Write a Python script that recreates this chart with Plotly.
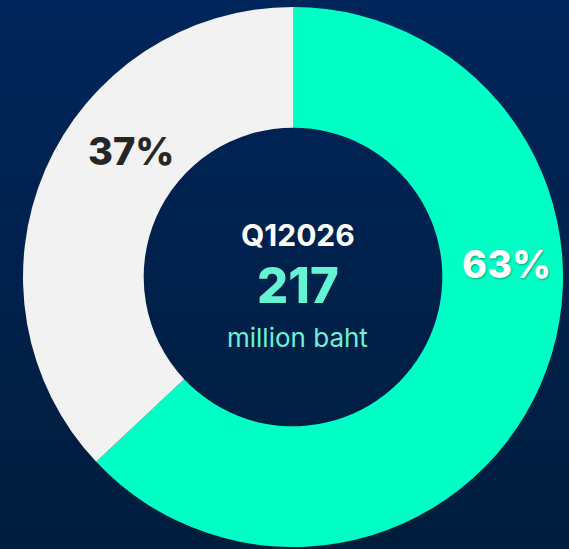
import plotly.graph_objects as go

labels = ["Q1 2026 share A", "Q1 2026 share B"]
values = [63, 37]
slice_colors = ["#00FFC5", "#F2F2F2"]
pct_text = ["63%", "37%"]
period = "Q12026"
total = "217"
unit = "million baht"

W, H = 569, 549
cx, cy, R = 293, 277, 270

fig = go.Figure(go.Pie(
    labels=labels, values=values, sort=False, direction="clockwise", rotation=0,
    hole=0.553, textinfo="none", hoverinfo="label+percent",
    marker=dict(colors=slice_colors, line=dict(width=0)),
    domain=dict(x=[(cx - R) / W, (cx + R) / W], y=[(H - cy - R) / H, (H - cy + R) / H]),
    showlegend=False,
))

# background gradient
shapes = []
n = 60
top = (0, 37, 90)
bot = (0, 29, 61)
for i in range(n):
    t = i / (n - 1)
    c = tuple(round(top[k] + (bot[k] - top[k]) * t) for k in range(3))
    shapes.append(dict(type="rect", xref="paper", yref="paper", x0=0, x1=1,
                       y1=1 - i / n, y0=1 - (i + 1) / n - 0.002,
                       fillcolor="rgb(%d,%d,%d)" % c, line=dict(width=0), layer="below"))

font = "Inter, Lato, sans-serif"
def P(x, y):
    return x / W, 1 - y / H

def add(px, py, text, **f):
    x, y = P(px, py)
    return dict(x=x, y=y, xref="paper", yref="paper", text=text, showarrow=False,
                xanchor="center", yanchor="middle", font=dict(family=font, **f))

ann = [
    add(506, 264, pct_text[0], size=38, color="white", weight=800,
        shadow="1px 1px 2px rgba(0,0,0,0.35)"),
    add(131, 151, pct_text[1], size=38, color="#262626", weight=800),
    add(298, 235, period, size=30, color="white", weight=700),
    add(298, 285, total, size=49, color="#64F4D2", weight=800),
    add(297, 337, unit, size=26, color="#6FF0D6", weight=400),
]

fig.update_layout(width=W, height=H, margin=dict(l=0, r=0, t=0, b=0),
                  paper_bgcolor="#00214C", plot_bgcolor="rgba(0,0,0,0)",
                  shapes=shapes, annotations=ann)
fig.write_html("out.html", config={"displayModeBar": False},
               post_script="document.body.style.margin='0px';")
